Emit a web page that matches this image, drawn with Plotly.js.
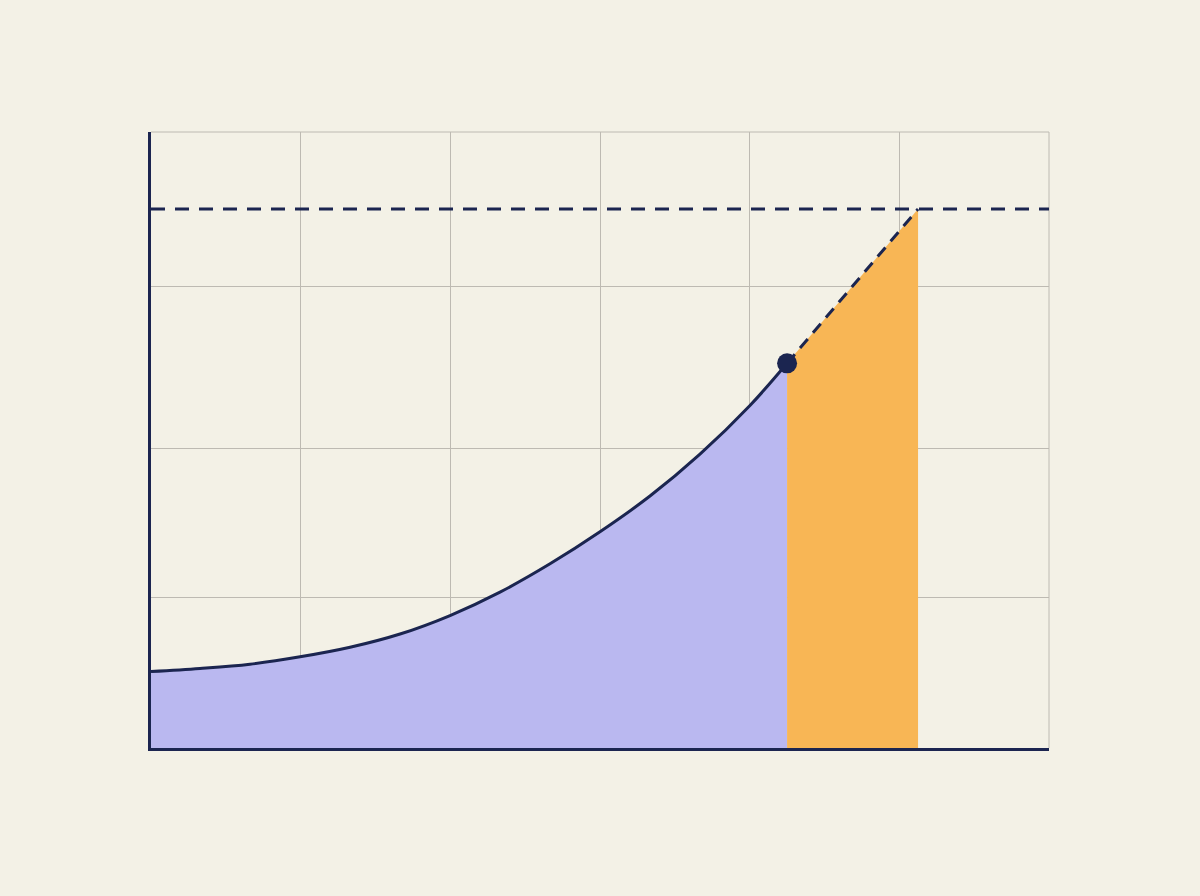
<!DOCTYPE html>
<html>
<head>
<meta charset="utf-8">
<script src="https://cdn.plot.ly/plotly-3.0.1.min.js"></script>
<style>html,body{margin:0;padding:0;background:#F3F1E6;}#chart{width:1200px;height:896px;}</style>
</head>
<body>
<div id="chart"></div>
<script>
// Data
var curveX = [0, 0.327, 0.661, 0.996, 1.33, 1.664, 1.998, 2.332, 2.666, 3.0, 3.334, 3.668, 4.002, 4.25];
var curveY = [12.4, 12.9, 13.6, 14.8, 16.35, 18.5, 21.5, 25.3, 29.9, 35.1, 40.9, 47.7, 55.6, 62.45];
var projX = [4.25, 5.125];
var projY = [62.45, 87.5];
var targetLevel = 87.5;
var xRange = [0, 6];
var yRange = [0, 100];
var xGridVals = [0, 1, 2, 3, 4, 5, 6];
var yGridVals = [0, 24.4, 48.7, 75, 100];

var navy = '#1B2550';
var grid = '#BDBAB2';

var traces = [
  { // purple area under curve
    x: curveX, y: curveY, type: 'scatter', mode: 'lines',
    line: {color: navy, width: 3, shape: 'spline', smoothing: 1},
    fill: 'tozeroy', fillcolor: '#BAB8F0', hoverinfo: 'skip'
  },
  { // orange projected region
    x: [projX[0], projX[0], projX[1], projX[1], projX[0]],
    y: [0, projY[0], projY[1], 0, 0],
    type: 'scatter', mode: 'lines', line: {width: 0, color: 'rgba(0,0,0,0)'},
    fill: 'toself', fillcolor: '#F8B655', hoverinfo: 'skip'
  },
  { // target level dashed line
    x: [xRange[0], xRange[1]], y: [targetLevel, targetLevel],
    type: 'scatter', mode: 'lines',
    line: {color: navy, width: 3, dash: '14px,10px'}, hoverinfo: 'skip'
  },
  { // projection dashed line
    x: projX, y: projY, type: 'scatter', mode: 'lines',
    line: {color: navy, width: 3, dash: '12px,8px'}, hoverinfo: 'skip'
  },
  { // current point
    x: [curveX[curveX.length - 1]], y: [curveY[curveY.length - 1]],
    type: 'scatter', mode: 'markers',
    marker: {color: navy, size: 20}, hoverinfo: 'skip'
  }
];

var layout = {
  width: 1200, height: 896,
  paper_bgcolor: '#F3F1E6', plot_bgcolor: '#F3F1E6',
  margin: {l: 151, r: 151, t: 132, b: 148, pad: 0},
  showlegend: false,
  xaxis: {
    range: xRange, tickmode: 'array', tickvals: xGridVals,
    showticklabels: false, ticks: '', showgrid: true, gridcolor: grid, gridwidth: 1,
    zeroline: false, showline: true, linecolor: navy, linewidth: 3, layer: 'above traces'
  },
  yaxis: {
    range: yRange, tickmode: 'array', tickvals: yGridVals,
    showticklabels: false, ticks: '', showgrid: true, gridcolor: grid, gridwidth: 1,
    zeroline: false, showline: true, linecolor: navy, linewidth: 3, layer: 'above traces'
  },
  shapes: [
    {type: 'line', xref: 'paper', yref: 'paper', x0: 0, x1: 1, y0: 1, y1: 1, line: {color: grid, width: 1}, layer: 'below'},
    {type: 'line', xref: 'paper', yref: 'paper', x0: 1, x1: 1, y0: 0, y1: 1, line: {color: grid, width: 1}, layer: 'below'}
  ]
};

Plotly.newPlot('chart', traces, layout, {displayModeBar: false, staticPlot: true});
</script>
</body>
</html>
